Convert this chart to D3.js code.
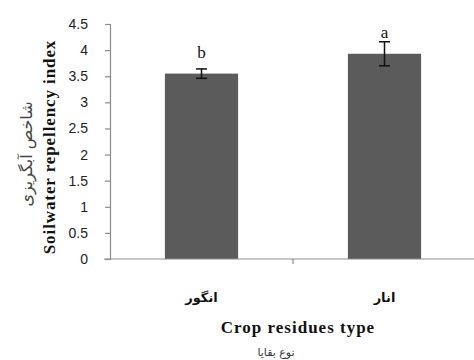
<!DOCTYPE html>
<html>
<head>
<meta charset="utf-8">
<script src="https://cdn.jsdelivr.net/npm/d3@7"></script>
<style>
  html, body { margin: 0; padding: 0; background: #fff; }
  svg { display: block; }
</style>
</head>
<body>
<svg id="chart" width="474" height="360"></svg>
<script>
// Crop residue types and mean soil water repellency index
const categories = ["انگور", "انار"];
const means = [3.55, 3.93];
const errors = [0.09, 0.23];
const groupLetters = ["b", "a"];
const yTicks = [0, 0.5, 1, 1.5, 2, 2.5, 3, 3.5, 4, 4.5];

const svg = d3.select("#chart");
const serif = "'Liberation Serif', 'Times New Roman', serif";
const sans = "'Liberation Sans', Arial, sans-serif";
const arabic = "'DejaVu Sans', sans-serif";

const x = d3.scaleBand()
  .domain(categories)
  .range([110, 476])
  .paddingInner(0.6)
  .paddingOuter(0.3);

const y = d3.scaleLinear()
  .domain([0, 4.5])
  .range([259, 24]);

// Y axis
const yAxis = d3.axisLeft(y)
  .tickValues(yTicks)
  .tickFormat(d => String(d))
  .tickSize(5)
  .tickPadding(17);

const gy = svg.append("g")
  .attr("transform", "translate(110,0)")
  .call(yAxis);
gy.select(".domain").attr("stroke", "#8c8c8c").attr("stroke-width", 1.2);
gy.selectAll(".tick line").attr("stroke", "#8c8c8c").attr("stroke-width", 1.2);
gy.selectAll(".tick text")
  .attr("font-family", sans)
  .attr("font-size", 14)
  .attr("fill", "#222");

// Bars
svg.append("g").selectAll("rect")
  .data(categories)
  .join("rect")
  .attr("x", d => x(d))
  .attr("width", x.bandwidth())
  .attr("y", (d, i) => y(means[i]))
  .attr("height", (d, i) => y(0) - y(means[i]))
  .attr("fill", "#5b5b5b");

// X axis line with the tick between the two categories
svg.append("line")
  .attr("x1", 104).attr("x2", 474)
  .attr("y1", y(0)).attr("y2", y(0))
  .attr("stroke", "#8c8c8c").attr("stroke-width", 1.2);

const boundaries = [x.range()[0] + x.step()];
svg.append("g").selectAll("line")
  .data(boundaries)
  .join("line")
  .attr("x1", d => d).attr("x2", d => d)
  .attr("y1", y(0)).attr("y2", y(0) + 5)
  .attr("stroke", "#8c8c8c").attr("stroke-width", 1.2);

// Error bars
const eb = svg.append("g")
  .attr("stroke", "#111")
  .attr("stroke-width", 1.5);
categories.forEach((c, i) => {
  const cx = x(c) + x.bandwidth() / 2;
  const top = y(means[i] + errors[i]);
  const bot = y(means[i] - errors[i]);
  eb.append("line").attr("x1", cx).attr("x2", cx).attr("y1", top).attr("y2", bot);
  eb.append("line").attr("x1", cx - 5.5).attr("x2", cx + 5.5).attr("y1", top).attr("y2", top);
  eb.append("line").attr("x1", cx - 5.5).attr("x2", cx + 5.5).attr("y1", bot).attr("y2", bot);
});

// Significance letters
svg.append("g").selectAll("text")
  .data(categories)
  .join("text")
  .attr("x", d => x(d) + x.bandwidth() / 2)
  .attr("y", (d, i) => y(means[i]) - 16)
  .attr("text-anchor", "middle")
  .attr("font-family", serif)
  .attr("font-size", 17)
  .attr("fill", "#111")
  .text((d, i) => groupLetters[i]);

// Category labels
svg.append("g").selectAll("text")
  .data(categories)
  .join("text")
  .attr("x", d => x(d) + x.bandwidth() / 2)
  .attr("y", 302)
  .attr("text-anchor", "middle")
  .attr("font-family", arabic)
  .attr("font-weight", "bold")
  .attr("font-size", 13)
  .attr("fill", "#111")
  .text(d => d);

// X axis titles
svg.append("text")
  .attr("x", 298).attr("y", 333)
  .attr("text-anchor", "middle")
  .attr("font-family", serif)
  .attr("font-weight", "bold")
  .attr("font-size", 17)
  .attr("letter-spacing", 1)
  .attr("fill", "#111")
  .text("Crop residues type");

svg.append("text")
  .attr("x", 276).attr("y", 356)
  .attr("text-anchor", "middle")
  .attr("font-family", arabic)
  .attr("font-size", 11)
  .attr("fill", "#333")
  .text("نوع بقایا");

// Y axis titles
svg.append("text")
  .attr("transform", "translate(55,147) rotate(-90)")
  .attr("text-anchor", "middle")
  .attr("font-family", serif)
  .attr("font-weight", "bold")
  .attr("font-size", 17)
  .attr("letter-spacing", 0.9)
  .attr("fill", "#111")
  .text("Soilwater repellency index");

svg.append("text")
  .attr("transform", "translate(32,154) rotate(-90)")
  .attr("text-anchor", "middle")
  .attr("font-family", arabic)
  .attr("font-size", 16)
  .attr("fill", "#444")
  .text("شاخص آبگریزی");
</script>
</body>
</html>
